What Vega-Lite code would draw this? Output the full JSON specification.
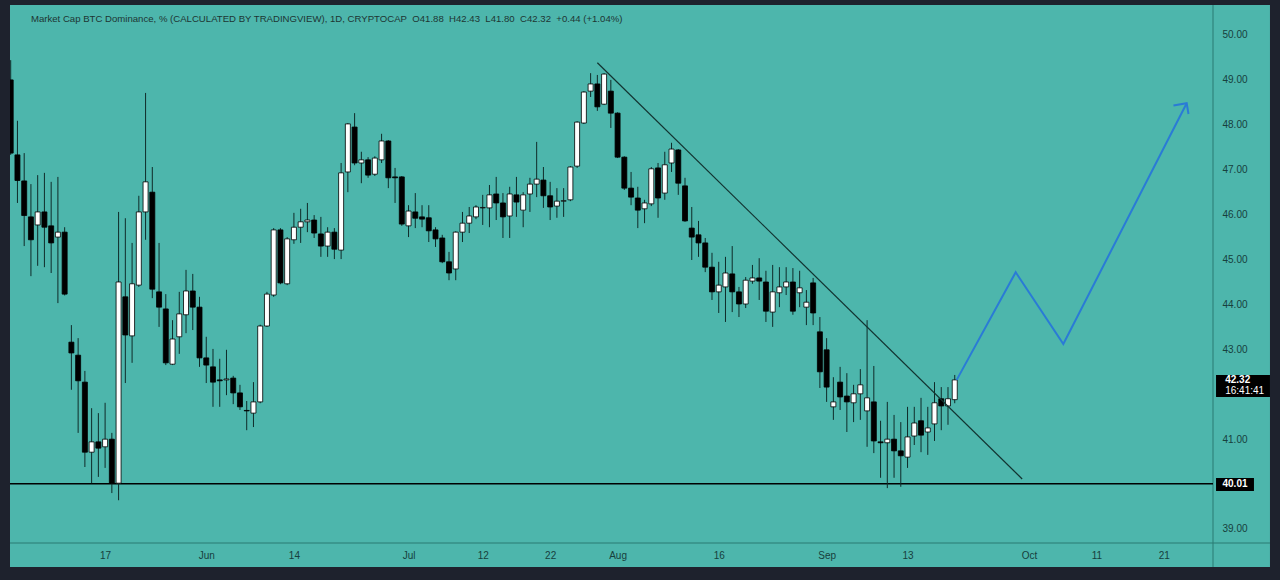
{
  "$schema": "https://vega.github.io/schema/vega-lite/v6.json",
  "autosize": "none",
  "width": 1203,
  "height": 538,
  "padding": {"left": 10, "top": 5, "right": 67, "bottom": 37},
  "background": "#1e222d",
  "config": {
    "view": {"stroke": null},
    "font": "Liberation Sans",
    "axis": {"labelColor": "#17403c", "labelFont": "Liberation Sans", "labelFontSize": 10, "ticks": false, "grid": false, "domain": false, "title": null}
  },
  "datasets": {
    "candles": [
      {"d": "2021-05-03", "o": 49.0, "h": 49.44, "l": 47.33, "c": 47.37},
      {"d": "2021-05-04", "o": 47.33, "h": 48.09, "l": 46.26, "c": 46.76},
      {"d": "2021-05-05", "o": 46.75, "h": 47.37, "l": 45.3, "c": 45.98},
      {"d": "2021-05-06", "o": 45.95, "h": 46.68, "l": 44.63, "c": 45.44},
      {"d": "2021-05-07", "o": 45.77, "h": 46.88, "l": 44.86, "c": 46.06},
      {"d": "2021-05-08", "o": 46.06, "h": 46.93, "l": 44.83, "c": 45.72},
      {"d": "2021-05-09", "o": 45.75, "h": 46.73, "l": 44.7, "c": 45.37},
      {"d": "2021-05-10", "o": 45.5, "h": 46.84, "l": 44.03, "c": 45.61},
      {"d": "2021-05-11", "o": 45.61, "h": 45.72, "l": 44.2, "c": 44.23},
      {"d": "2021-05-12", "o": 43.16, "h": 43.54, "l": 42.1, "c": 42.92},
      {"d": "2021-05-13", "o": 42.87, "h": 43.25, "l": 41.14, "c": 42.3},
      {"d": "2021-05-14", "o": 42.27, "h": 42.52, "l": 40.38, "c": 40.71},
      {"d": "2021-05-15", "o": 40.71, "h": 41.69, "l": 40.02, "c": 40.94},
      {"d": "2021-05-16", "o": 40.94, "h": 41.58, "l": 40.16, "c": 40.8},
      {"d": "2021-05-17", "o": 40.83, "h": 41.81, "l": 40.36, "c": 41.0},
      {"d": "2021-05-18", "o": 41.0, "h": 41.14, "l": 39.8, "c": 40.02},
      {"d": "2021-05-19", "o": 40.02, "h": 46.06, "l": 39.64, "c": 44.5},
      {"d": "2021-05-20", "o": 44.17, "h": 45.92, "l": 42.25, "c": 43.32},
      {"d": "2021-05-21", "o": 43.3, "h": 45.37, "l": 42.7, "c": 44.46},
      {"d": "2021-05-22", "o": 44.43, "h": 46.42, "l": 44.39, "c": 46.06},
      {"d": "2021-05-23", "o": 46.06, "h": 48.71, "l": 45.44, "c": 46.73},
      {"d": "2021-05-24", "o": 46.5, "h": 47.06, "l": 44.14, "c": 44.34},
      {"d": "2021-05-25", "o": 44.28, "h": 45.37, "l": 43.5, "c": 43.94},
      {"d": "2021-05-26", "o": 43.9, "h": 44.23, "l": 42.65, "c": 42.7},
      {"d": "2021-05-27", "o": 42.67, "h": 43.65, "l": 42.65, "c": 43.23},
      {"d": "2021-05-28", "o": 43.28, "h": 44.28, "l": 42.9, "c": 43.79},
      {"d": "2021-05-29", "o": 43.77, "h": 44.77, "l": 43.36, "c": 44.3},
      {"d": "2021-05-30", "o": 44.3, "h": 44.68, "l": 43.43, "c": 43.94},
      {"d": "2021-05-31", "o": 43.94, "h": 44.17, "l": 42.61, "c": 42.81},
      {"d": "2021-06-01", "o": 42.81, "h": 43.28, "l": 42.25, "c": 42.65},
      {"d": "2021-06-02", "o": 42.61, "h": 43.01, "l": 41.72, "c": 42.27},
      {"d": "2021-06-03", "o": 42.32, "h": 42.79, "l": 41.72, "c": 42.3},
      {"d": "2021-06-04", "o": 42.32, "h": 42.99, "l": 41.98, "c": 42.34},
      {"d": "2021-06-05", "o": 42.36, "h": 42.41, "l": 41.78, "c": 42.03},
      {"d": "2021-06-06", "o": 42.03, "h": 42.21, "l": 41.65, "c": 41.72},
      {"d": "2021-06-07", "o": 41.64, "h": 41.85, "l": 41.2, "c": 41.63},
      {"d": "2021-06-08", "o": 41.58, "h": 42.27, "l": 41.27, "c": 41.83},
      {"d": "2021-06-09", "o": 41.83, "h": 43.55, "l": 41.8, "c": 43.52},
      {"d": "2021-06-10", "o": 43.52, "h": 44.28, "l": 43.5, "c": 44.23},
      {"d": "2021-06-11", "o": 44.21, "h": 45.7, "l": 44.17, "c": 45.66},
      {"d": "2021-06-12", "o": 45.66, "h": 45.7, "l": 44.45, "c": 44.48},
      {"d": "2021-06-13", "o": 44.46, "h": 45.5, "l": 44.43, "c": 45.46},
      {"d": "2021-06-14", "o": 45.44, "h": 46.04, "l": 45.35, "c": 45.72},
      {"d": "2021-06-15", "o": 45.72, "h": 46.13, "l": 45.37, "c": 45.84},
      {"d": "2021-06-16", "o": 45.84, "h": 46.26, "l": 45.61, "c": 45.88},
      {"d": "2021-06-17", "o": 45.88, "h": 45.99, "l": 45.48, "c": 45.59},
      {"d": "2021-06-18", "o": 45.57, "h": 45.95, "l": 45.06, "c": 45.3},
      {"d": "2021-06-19", "o": 45.3, "h": 45.72, "l": 45.06, "c": 45.61},
      {"d": "2021-06-20", "o": 45.61, "h": 45.7, "l": 45.01, "c": 45.23},
      {"d": "2021-06-21", "o": 45.21, "h": 47.15, "l": 45.01, "c": 46.93},
      {"d": "2021-06-22", "o": 46.95, "h": 48.04, "l": 46.5, "c": 48.02},
      {"d": "2021-06-23", "o": 47.95, "h": 48.26, "l": 47.1, "c": 47.15},
      {"d": "2021-06-24", "o": 47.15, "h": 47.4, "l": 46.7, "c": 47.22},
      {"d": "2021-06-25", "o": 47.22, "h": 47.28, "l": 46.82, "c": 46.88},
      {"d": "2021-06-26", "o": 46.9, "h": 47.3, "l": 46.86, "c": 47.26},
      {"d": "2021-06-27", "o": 47.22, "h": 47.8, "l": 47.15, "c": 47.64},
      {"d": "2021-06-28", "o": 47.64, "h": 47.66, "l": 46.59, "c": 46.82},
      {"d": "2021-06-29", "o": 46.84, "h": 47.04, "l": 46.26, "c": 46.82},
      {"d": "2021-06-30", "o": 46.84, "h": 46.86, "l": 45.75, "c": 45.79},
      {"d": "2021-07-01", "o": 45.75, "h": 46.21, "l": 45.5, "c": 46.08},
      {"d": "2021-07-02", "o": 46.06, "h": 46.48, "l": 45.7, "c": 45.92},
      {"d": "2021-07-03", "o": 45.95, "h": 46.21, "l": 45.72, "c": 45.9},
      {"d": "2021-07-04", "o": 45.93, "h": 46.21, "l": 45.39, "c": 45.64},
      {"d": "2021-07-05", "o": 45.66, "h": 45.72, "l": 45.28, "c": 45.46},
      {"d": "2021-07-06", "o": 45.48, "h": 45.55, "l": 44.92, "c": 44.95},
      {"d": "2021-07-07", "o": 44.95, "h": 45.17, "l": 44.54, "c": 44.7},
      {"d": "2021-07-08", "o": 44.79, "h": 45.63, "l": 44.54, "c": 45.61},
      {"d": "2021-07-09", "o": 45.61, "h": 46.06, "l": 45.39, "c": 45.81},
      {"d": "2021-07-10", "o": 45.81, "h": 46.17, "l": 45.59, "c": 45.97},
      {"d": "2021-07-11", "o": 45.95, "h": 46.21, "l": 45.9, "c": 46.17},
      {"d": "2021-07-12", "o": 46.15, "h": 46.44, "l": 45.77, "c": 46.16},
      {"d": "2021-07-13", "o": 46.15, "h": 46.66, "l": 45.72, "c": 46.44},
      {"d": "2021-07-14", "o": 46.46, "h": 46.84, "l": 45.88, "c": 46.26},
      {"d": "2021-07-15", "o": 46.26, "h": 46.48, "l": 45.48, "c": 45.95},
      {"d": "2021-07-16", "o": 45.97, "h": 46.62, "l": 45.48, "c": 46.46},
      {"d": "2021-07-17", "o": 46.44, "h": 46.84, "l": 45.95, "c": 46.28},
      {"d": "2021-07-18", "o": 46.1, "h": 46.5, "l": 45.72, "c": 46.44},
      {"d": "2021-07-19", "o": 46.46, "h": 46.82, "l": 46.06, "c": 46.68},
      {"d": "2021-07-20", "o": 46.68, "h": 47.62, "l": 46.39, "c": 46.79},
      {"d": "2021-07-21", "o": 46.77, "h": 47.06, "l": 46.15, "c": 46.42},
      {"d": "2021-07-22", "o": 46.42, "h": 46.73, "l": 45.88, "c": 46.17},
      {"d": "2021-07-23", "o": 46.19, "h": 46.59, "l": 45.93, "c": 46.3},
      {"d": "2021-07-24", "o": 46.3, "h": 46.59, "l": 45.95, "c": 46.31},
      {"d": "2021-07-25", "o": 46.33, "h": 47.08, "l": 46.3, "c": 47.06},
      {"d": "2021-07-26", "o": 47.08, "h": 48.08, "l": 47.04, "c": 48.06},
      {"d": "2021-07-27", "o": 48.04, "h": 48.75, "l": 48.02, "c": 48.73},
      {"d": "2021-07-28", "o": 48.75, "h": 49.15, "l": 48.62, "c": 48.91},
      {"d": "2021-07-29", "o": 48.91, "h": 49.11, "l": 48.31, "c": 48.4},
      {"d": "2021-07-30", "o": 48.46, "h": 49.15, "l": 48.44, "c": 49.13},
      {"d": "2021-07-31", "o": 48.75, "h": 49.0, "l": 47.93, "c": 48.26},
      {"d": "2021-08-01", "o": 48.26, "h": 48.28, "l": 47.26, "c": 47.28},
      {"d": "2021-08-02", "o": 47.28, "h": 47.3, "l": 46.55, "c": 46.59},
      {"d": "2021-08-03", "o": 46.59, "h": 46.95, "l": 46.21, "c": 46.39},
      {"d": "2021-08-04", "o": 46.37, "h": 46.62, "l": 45.7, "c": 46.1},
      {"d": "2021-08-05", "o": 46.13, "h": 46.33, "l": 45.81, "c": 46.26},
      {"d": "2021-08-06", "o": 46.24, "h": 47.06, "l": 46.19, "c": 47.02},
      {"d": "2021-08-07", "o": 47.04, "h": 47.15, "l": 45.93, "c": 46.37},
      {"d": "2021-08-08", "o": 46.48, "h": 47.4, "l": 46.33, "c": 47.11},
      {"d": "2021-08-09", "o": 47.15, "h": 47.6, "l": 46.95, "c": 47.46},
      {"d": "2021-08-10", "o": 47.44, "h": 47.46, "l": 46.44, "c": 46.7},
      {"d": "2021-08-11", "o": 46.64, "h": 46.82, "l": 45.84, "c": 45.86},
      {"d": "2021-08-12", "o": 45.7, "h": 46.17, "l": 44.99, "c": 45.5},
      {"d": "2021-08-13", "o": 45.55, "h": 45.86, "l": 45.06, "c": 45.37},
      {"d": "2021-08-14", "o": 45.37, "h": 45.48, "l": 44.72, "c": 44.83},
      {"d": "2021-08-15", "o": 44.83, "h": 45.15, "l": 44.1, "c": 44.28},
      {"d": "2021-08-16", "o": 44.28, "h": 44.95, "l": 43.81, "c": 44.43},
      {"d": "2021-08-17", "o": 44.39, "h": 45.06, "l": 43.61, "c": 44.7},
      {"d": "2021-08-18", "o": 44.68, "h": 45.3, "l": 43.83, "c": 44.28},
      {"d": "2021-08-19", "o": 44.28, "h": 44.39, "l": 43.72, "c": 44.01},
      {"d": "2021-08-20", "o": 44.01, "h": 44.61, "l": 43.92, "c": 44.54},
      {"d": "2021-08-21", "o": 44.52, "h": 44.88, "l": 44.46, "c": 44.59},
      {"d": "2021-08-22", "o": 44.59, "h": 45.03, "l": 44.1, "c": 44.52},
      {"d": "2021-08-23", "o": 44.5, "h": 44.75, "l": 43.61, "c": 43.85},
      {"d": "2021-08-24", "o": 43.83, "h": 44.88, "l": 43.5, "c": 44.28},
      {"d": "2021-08-25", "o": 44.26, "h": 44.83, "l": 43.94, "c": 44.39},
      {"d": "2021-08-26", "o": 44.39, "h": 44.83, "l": 44.21, "c": 44.5},
      {"d": "2021-08-27", "o": 44.5, "h": 44.81, "l": 43.77, "c": 43.85},
      {"d": "2021-08-28", "o": 44.26, "h": 44.75, "l": 43.94, "c": 44.37},
      {"d": "2021-08-29", "o": 43.94, "h": 44.32, "l": 43.54, "c": 44.05},
      {"d": "2021-08-30", "o": 44.48, "h": 44.59, "l": 43.54, "c": 43.81},
      {"d": "2021-08-31", "o": 43.39, "h": 43.72, "l": 42.14, "c": 42.5},
      {"d": "2021-09-01", "o": 42.99, "h": 43.25, "l": 41.83, "c": 42.16},
      {"d": "2021-09-02", "o": 41.72, "h": 42.38, "l": 41.43, "c": 41.83},
      {"d": "2021-09-03", "o": 42.27, "h": 42.61, "l": 41.65, "c": 41.94},
      {"d": "2021-09-04", "o": 41.96, "h": 42.47, "l": 41.16, "c": 41.83},
      {"d": "2021-09-05", "o": 41.81, "h": 42.21, "l": 41.38, "c": 42.01},
      {"d": "2021-09-06", "o": 42.01, "h": 42.56, "l": 41.43, "c": 42.21},
      {"d": "2021-09-07", "o": 41.63, "h": 43.65, "l": 40.83, "c": 41.92},
      {"d": "2021-09-08", "o": 41.83, "h": 42.63, "l": 40.69, "c": 40.96},
      {"d": "2021-09-09", "o": 40.94, "h": 41.41, "l": 40.14, "c": 40.92},
      {"d": "2021-09-10", "o": 40.92, "h": 41.83, "l": 39.91, "c": 41.0},
      {"d": "2021-09-11", "o": 41.0, "h": 41.54, "l": 40.14, "c": 40.74},
      {"d": "2021-09-12", "o": 40.74, "h": 41.38, "l": 39.94, "c": 40.63},
      {"d": "2021-09-13", "o": 40.6, "h": 41.72, "l": 40.36, "c": 41.05},
      {"d": "2021-09-14", "o": 41.07, "h": 41.72, "l": 40.87, "c": 41.36},
      {"d": "2021-09-15", "o": 41.41, "h": 41.92, "l": 40.71, "c": 41.09},
      {"d": "2021-09-16", "o": 41.16, "h": 41.72, "l": 40.65, "c": 41.25},
      {"d": "2021-09-17", "o": 41.34, "h": 42.27, "l": 40.96, "c": 41.81},
      {"d": "2021-09-18", "o": 41.9, "h": 42.16, "l": 41.2, "c": 41.74},
      {"d": "2021-09-19", "o": 41.74, "h": 42.16, "l": 41.32, "c": 41.9},
      {"d": "2021-09-20", "o": 41.88, "h": 42.43, "l": 41.8, "c": 42.32}
    ],
    "trend": [
      {"d": "2021-07-29T00:00:00Z", "v": 49.383},
      {"d": "2021-09-30T00:00:00Z", "v": 40.114}
    ],
    "path": [
      {"i": 1, "d": "2021-09-20T07:00:00Z", "v": 42.32},
      {"i": 2, "d": "2021-09-29T01:00:00Z", "v": 44.716},
      {"i": 3, "d": "2021-10-06T02:30:00Z", "v": 43.12},
      {"i": 4, "d": "2021-10-24T09:30:00Z", "v": 48.48}
    ],
    "arrow": [
      {"i": 1, "d": "2021-10-22T10:30:00Z", "v": 48.43},
      {"i": 2, "d": "2021-10-24T09:30:00Z", "v": 48.48},
      {"i": 3, "d": "2021-10-24T16:00:00Z", "v": 48.24}
    ],
    "one": [{"k": 1}]
  },
  "encoding": {
    "x": {
      "type": "temporal",
      "scale": {
        "type": "utc",
        "padding": 0,
        "domain": [
          {"year": 2021, "month": 5, "date": 2, "hours": 21, "minutes": 30, "utc": true},
          {"year": 2021, "month": 10, "date": 28, "hours": 7, "minutes": 12, "utc": true}
        ]
      },
      "axis": {
        "orient": "bottom",
        "zindex": 1,
        "labelPadding": 7,
        "values": [
          {"year": 2021, "month": 5, "date": 17, "utc": true},
          {"year": 2021, "month": 6, "date": 1, "utc": true},
          {"year": 2021, "month": 6, "date": 14, "utc": true},
          {"year": 2021, "month": 7, "date": 1, "utc": true},
          {"year": 2021, "month": 7, "date": 12, "utc": true},
          {"year": 2021, "month": 7, "date": 22, "utc": true},
          {"year": 2021, "month": 8, "date": 1, "utc": true},
          {"year": 2021, "month": 8, "date": 16, "utc": true},
          {"year": 2021, "month": 9, "date": 1, "utc": true},
          {"year": 2021, "month": 9, "date": 13, "utc": true},
          {"year": 2021, "month": 10, "date": 1, "utc": true},
          {"year": 2021, "month": 10, "date": 11, "utc": true},
          {"year": 2021, "month": 10, "date": 21, "utc": true}
        ],
        "labelExpr": "utcdate(datum.value) == 1 ? utcFormat(datum.value, '%b') : utcFormat(datum.value, '%-d')"
      }
    },
    "y": {
      "type": "quantitative",
      "scale": {"domain": [38.688, 50.668], "nice": false, "zero": false},
      "axis": {
        "orient": "right",
        "zindex": 1,
        "values": [39, 41, 43, 44, 45, 46, 47, 48, 49, 50],
        "format": ".2f",
        "labelPadding": 9,
        "labelBaseline": "middle"
      }
    }
  },
  "layer": [
    {
      "data": {"name": "one"},
      "mark": {"type": "rect", "color": "#4db6ac", "clip": false},
      "encoding": {
        "x": {"datum": {"year": 2021, "month": 5, "date": 2, "hours": 21, "minutes": 30, "utc": true}},
        "x2": {"datum": {"year": 2021, "month": 11, "date": 5, "hours": 18, "utc": true}},
        "y": {"datum": 50.668},
        "y2": {"datum": 38.154}
      }
    },
    {
      "data": {"name": "one"},
      "mark": {"type": "rule", "color": "#2b7a73", "strokeWidth": 1, "clip": false},
      "encoding": {
        "x": {"datum": {"year": 2021, "month": 10, "date": 28, "hours": 7, "minutes": 12, "utc": true}},
        "y": {"datum": 50.668},
        "y2": {"datum": 38.154}
      }
    },
    {
      "data": {"name": "one"},
      "mark": {"type": "rule", "color": "#2b7a73", "strokeWidth": 1, "clip": false},
      "encoding": {
        "x": {"datum": {"year": 2021, "month": 5, "date": 2, "hours": 21, "minutes": 30, "utc": true}},
        "x2": {"datum": {"year": 2021, "month": 11, "date": 5, "hours": 18, "utc": true}},
        "y": {"datum": 38.688}
      }
    },
    {
      "data": {"name": "one"},
      "mark": {"type": "rule", "color": "#000000", "strokeWidth": 1.5},
      "encoding": {
        "x": {"datum": {"year": 2021, "month": 5, "date": 2, "hours": 21, "minutes": 30, "utc": true}},
        "x2": {"datum": {"year": 2021, "month": 10, "date": 28, "hours": 7, "minutes": 12, "utc": true}},
        "y": {"datum": 40.01}
      }
    },
    {
      "data": {"name": "candles"},
      "mark": {"type": "rule", "color": "#0f2b29", "strokeWidth": 1, "clip": true},
      "encoding": {
        "x": {"field": "d"},
        "y": {"field": "l"},
        "y2": {"field": "h"}
      }
    },
    {
      "data": {"name": "candles"},
      "mark": {"type": "bar", "orient": "vertical", "size": 5, "stroke": "#000000", "strokeWidth": 0.8, "clip": true},
      "encoding": {
        "x": {"field": "d"},
        "y": {"field": "o"},
        "y2": {"field": "c"},
        "fill": {"condition": {"test": "datum.c >= datum.o", "value": "#ffffff"}, "value": "#000000"}
      }
    },
    {
      "data": {"name": "trend"},
      "mark": {"type": "line", "color": "#123330", "strokeWidth": 1.2},
      "encoding": {
        "x": {"field": "d"},
        "y": {"field": "v"}
      }
    },
    {
      "data": {"name": "path"},
      "mark": {"type": "line", "color": "#2a7bd6", "strokeWidth": 2, "strokeJoin": "miter"},
      "encoding": {
        "x": {"field": "d"},
        "y": {"field": "v"},
        "order": {"field": "i"}
      }
    },
    {
      "data": {"name": "arrow"},
      "mark": {"type": "line", "color": "#2a7bd6", "strokeWidth": 2, "strokeJoin": "miter"},
      "encoding": {
        "x": {"field": "d"},
        "y": {"field": "v"},
        "order": {"field": "i"}
      }
    },
    {
      "data": {"name": "one"},
      "mark": {"type": "rect", "color": "#000000", "clip": false},
      "encoding": {
        "x": {"datum": {"year": 2021, "month": 10, "date": 28, "hours": 18, "utc": true}},
        "x2": {"datum": {"year": 2021, "month": 11, "date": 3, "hours": 9, "utc": true}},
        "y": {"datum": 40.136},
        "y2": {"datum": 39.846}
      }
    },
    {
      "data": {"name": "one"},
      "mark": {"type": "text", "text": "40.01", "color": "#ffffff", "fontSize": 10, "fontWeight": "bold", "align": "center", "baseline": "middle", "clip": false},
      "encoding": {
        "x": {"datum": {"year": 2021, "month": 10, "date": 31, "hours": 13, "minutes": 30, "utc": true}},
        "y": {"datum": 40.01}
      }
    },
    {
      "data": {"name": "one"},
      "mark": {"type": "rect", "color": "#000000", "clip": false},
      "encoding": {
        "x": {"datum": {"year": 2021, "month": 10, "date": 28, "hours": 18, "utc": true}},
        "x2": {"datum": {"year": 2021, "month": 11, "date": 5, "hours": 18, "utc": true}},
        "y": {"datum": 42.43},
        "y2": {"datum": 41.94}
      }
    },
    {
      "data": {"name": "one"},
      "mark": {"type": "text", "text": "42.32", "color": "#ffffff", "fontSize": 10, "fontWeight": "bold", "align": "left", "baseline": "middle", "clip": false},
      "encoding": {
        "x": {"datum": {"year": 2021, "month": 10, "date": 30, "hours": 2, "minutes": 30, "utc": true}},
        "y": {"datum": 42.307}
      }
    },
    {
      "data": {"name": "one"},
      "mark": {"type": "text", "text": "16:41:41", "color": "#ffffff", "fontSize": 10, "align": "left", "baseline": "middle", "clip": false},
      "encoding": {
        "x": {"datum": {"year": 2021, "month": 10, "date": 30, "hours": 2, "minutes": 30, "utc": true}},
        "y": {"datum": 42.062}
      }
    },
    {
      "data": {"name": "one"},
      "mark": {"type": "text", "text": "Market Cap BTC Dominance, % (CALCULATED BY TRADINGVIEW), 1D, CRYPTOCAP\u00a0\u00a0O41.88\u00a0\u00a0H42.43\u00a0\u00a0L41.80\u00a0\u00a0C42.32\u00a0\u00a0+0.44 (+1.04%)", "color": "#1d3533", "font": "Liberation Sans", "fontSize": 9.6, "align": "left", "baseline": "middle"},
      "encoding": {
        "x": {"datum": {"year": 2021, "month": 5, "date": 6, "utc": true}},
        "y": {"datum": 50.356}
      }
    }
  ]
}
